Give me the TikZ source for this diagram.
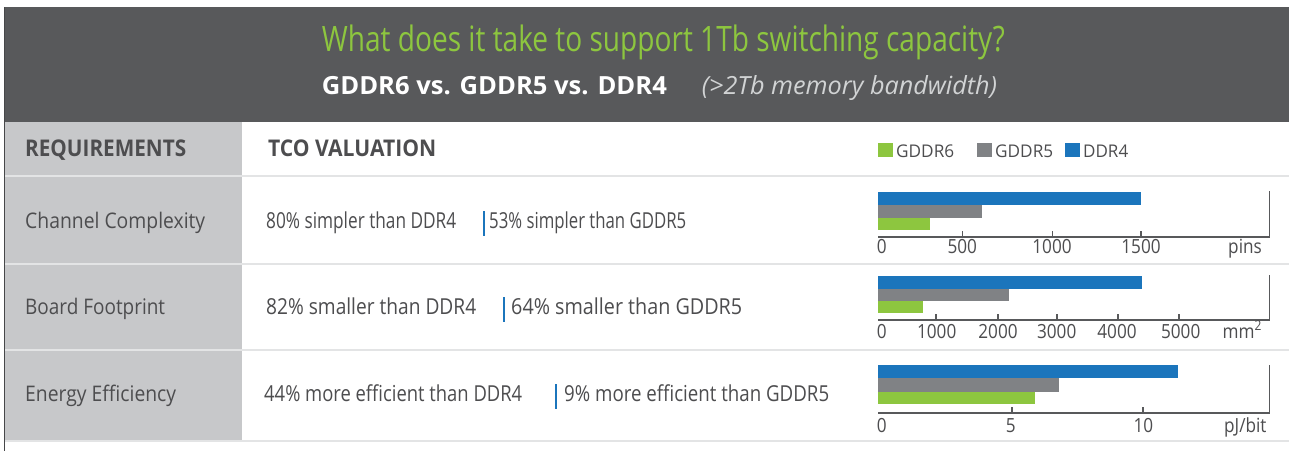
\documentclass[tikz,border=0pt]{standalone}
\usepackage{fontspec}
\setmainfont{Open Sans}
\usepackage{graphicx}

% palette
\definecolor{headgray}{HTML}{58595B}
\definecolor{colgray}{HTML}{C7C8CA}
\definecolor{sepgray}{HTML}{E3E4E5}
\definecolor{titlegreen}{HTML}{8DC63F}
\definecolor{subgray}{HTML}{D1D3D4}
\definecolor{textgray}{HTML}{4D4D4F}
\definecolor{axisgray}{HTML}{58595B}
\definecolor{cddr}{HTML}{1B75BC}
\definecolor{cgfive}{HTML}{808285}
\definecolor{cgsix}{HTML}{8DC63F}

% stretch a piece of text horizontally to a given width (in pt), keeping its height
\newcommand\fitto[2]{\resizebox{#1pt}{\height}{#2}}
\newcommand\narrow[1]{\scalebox{0.88}[1]{#1}}

\begin{document}
\begin{tikzpicture}[x=1pt,y=-1pt,
  lbl/.style={inner sep=0pt, anchor=base west},
  titletxt/.style={lbl, text=titlegreen, font=\fontsize{35}{40}\selectfont},
  subbold/.style={lbl, text=white, font=\fontsize{25}{30}\selectfont\bfseries},
  subital/.style={lbl, text=subgray, font=\fontsize{25}{30}\selectfont\itshape},
  colhead/.style={lbl, text=textgray, font=\fontsize{23}{28}\selectfont\bfseries},
  rowlabel/.style={lbl, text=textgray, font=\fontsize{21.5}{25}\selectfont},
  rowtext/.style={lbl, text=textgray, font=\fontsize{22}{26}\selectfont},
  legtext/.style={lbl, text=textgray, font=\fontsize{17.5}{21}\selectfont},
  ticklbl/.style={inner sep=0pt, anchor=base, text=textgray, font=\fontsize{19.5}{23}\selectfont},
  unitlbl/.style={inner sep=0pt, anchor=base east, text=textgray, font=\fontsize{19.5}{23}\selectfont},
  sepline/.style={draw=sepgray, line width=2pt},
  divider/.style={fill=cddr},
  axisline/.style={draw=axisgray, line width=1.6pt},
  barddr/.style={fill=cddr},
  bargfive/.style={fill=cgfive},
  bargsix/.style={fill=cgsix}]

\useasboundingbox (0,0) rectangle (1289,451);
\fill[white] (0,0) rectangle (1289,451);

% title band
\fill[headgray] (4,7) rectangle (1289,121.5);
\node[titletxt] (title) at (321.7,51.7) {\fitto{683}{What does it take to support 1Tb switching capacity?}};
\node[subbold] (subtitle) at (321.7,94) {\fitto{345}{GDDR6 vs. GDDR5 vs. DDR4}};
\node[subital] (bandwidth) at (701.7,94) {\fitto{295}{(>2Tb memory bandwidth)}};

% requirements column and row rules
\fill[colgray] (5,121.5) rectangle (242,441);
\foreach \yy in {176,264,350,441} \draw[sepline] (5,\yy) -- (1289,\yy);
\draw[draw=headgray!80!black, line width=1.6pt] (4.5,7) -- (4.5,451);

% column headings
\node[colhead] (req) at (25,156.5) {\fitto{161}{REQUIREMENTS}};
\node[colhead] (tco) at (268,156.5) {\fitto{168}{TCO VALUATION}};

% legend
\fill[cgsix]  (878,142.7) rectangle (892.7,156.5);
\node[legtext] (lg6) at (896,157) {\fitto{58}{GDDR6}};
\fill[cgfive] (977,142.7) rectangle (991.7,156.5);
\node[legtext] (lg5) at (995,157) {\fitto{58}{GDDR5}};
\fill[cddr]   (1065,142.7) rectangle (1079.7,156.5);
\node[legtext] (lg4) at (1083,157) {\fitto{45}{DDR4}};

% row 1: channel complexity
\node[rowlabel] (chan) at (25,228) {\fitto{180}{Channel Complexity}};
\node[rowtext] (chanA) at (266,228) {\fitto{190}{80\% simpler than DDR4}};
\fill[divider] (482.5,211) rectangle (484.5,236);
\node[rowtext] (chanB) at (489,228) {\fitto{197}{53\% simpler than GDDR5}};

% row 2: board footprint
\node[rowlabel] (board) at (25,314) {\fitto{140}{Board Footprint}};
\node[rowtext] (boardA) at (266,314) {\fitto{210}{82\% smaller than DDR4}};
\fill[divider] (503,297) rectangle (505,322);
\node[rowtext] (boardB) at (511,314) {\fitto{231}{64\% smaller than GDDR5}};

% row 3: energy efficiency
\node[rowlabel] (energy) at (25,401) {\fitto{151}{Energy Efficiency}};
\node[rowtext] (energyA) at (264,401) {\fitto{258}{44\% more efficient than DDR4}};
\fill[divider] (554.5,384) rectangle (556.5,409);
\node[rowtext] (energyB) at (564,401) {\fitto{265}{9\% more efficient than GDDR5}};

% chart 1: pins
\fill[barddr]   (878,191.7) rectangle (1141,205);
\fill[bargfive] (878,205) rectangle (981.7,217.5);
\fill[bargsix]  (878,217.5) rectangle (930,230);
\draw[axisline] (878,236.7) -- (1269.3,236.7) -- (1269.3,191);
\foreach \xx in {962.3,1052.3,1141} \draw[axisline] (\xx,236.7) -- (\xx,230.5);
\node[ticklbl] (p0) at (881.7,253) {\narrow{0}};
\node[ticklbl] (p500) at (962.3,253) {\narrow{500}};
\node[ticklbl] (p1000) at (1052,253) {\narrow{1000}};
\node[ticklbl] (p1500) at (1141,253) {\narrow{1500}};
\node[unitlbl] (pins) at (1262,253) {\narrow{pins}};

% chart 2: area
\fill[barddr]   (878,275.7) rectangle (1141.7,289);
\fill[bargfive] (878,289) rectangle (1009,301);
\fill[bargsix]  (878,301) rectangle (923,313);
\draw[axisline] (878,320) -- (1269.3,320) -- (1269.3,275);
\foreach \xx in {936,998,1057,1118,1179} \draw[axisline] (\xx,320) -- (\xx,313.5);
\node[ticklbl] (a0) at (881.7,338) {\narrow{0}};
\node[ticklbl] (a1) at (936.7,338) {\narrow{1000}};
\node[ticklbl] (a2) at (998,338) {\narrow{2000}};
\node[ticklbl] (a3) at (1056.7,338) {\narrow{3000}};
\node[ticklbl] (a4) at (1117,338) {\narrow{4000}};
\node[ticklbl] (a5) at (1180.7,338) {\narrow{5000}};
\node[unitlbl] (mm) at (1262,338) {\narrow{mm\textsuperscript{2}}};

% chart 3: energy per bit
\fill[barddr]   (878,365) rectangle (1178,378);
\fill[bargfive] (878,378) rectangle (1059,391.5);
\fill[bargsix]  (878,391.5) rectangle (1034.7,404);
\draw[axisline] (878,413) -- (1269.3,413) -- (1269.3,364.5);
\foreach \xx in {1011.7,1142.7} \draw[axisline] (\xx,413) -- (\xx,406.5);
\node[ticklbl] (e0) at (881.7,432) {\narrow{0}};
\node[ticklbl] (e5) at (1010.7,432) {\narrow{5}};
\node[ticklbl] (e10) at (1143.3,432) {\narrow{10}};
\node[unitlbl] (pj) at (1266.7,432) {\narrow{pJ/bit}};
\end{tikzpicture}
\end{document}
